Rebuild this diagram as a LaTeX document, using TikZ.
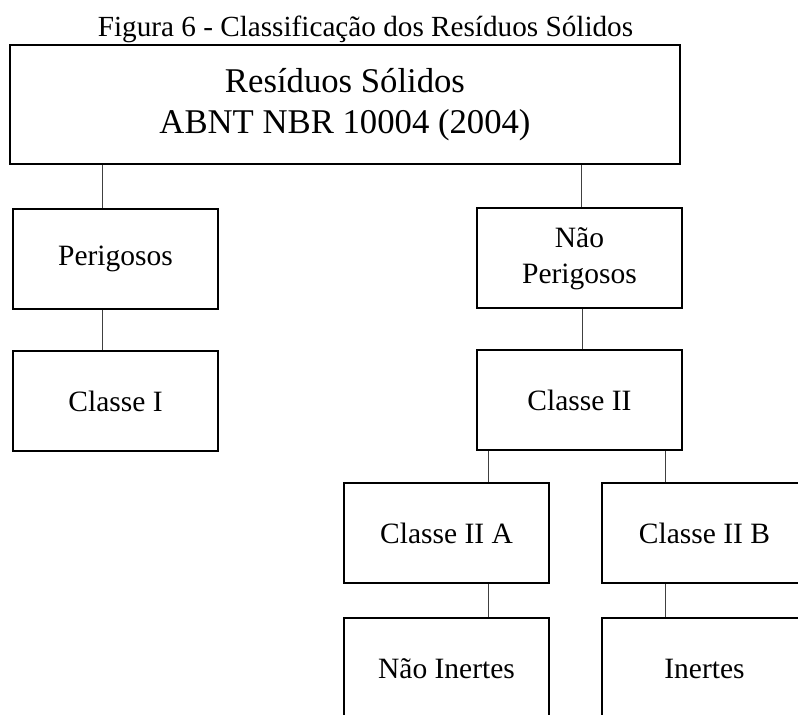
\documentclass[tikz,border=0pt]{standalone}
\usepackage{fontspec}
\setmainfont{Liberation Serif}
\usepackage{tikz}
\usetikzlibrary{positioning}

\tikzset{
  classbox/.style={draw,line width=1pt,inner sep=0pt,minimum width=102.5pt,minimum height=50pt,
    align=center,font=\fontsize{14.75}{18}\selectfont},
  link/.style={draw=black!75,line width=0.45pt}
}

\begin{document}
\begin{tikzpicture}[x=0.5pt,y=-0.5pt,node distance=71pt]
  \useasboundingbox (0,0) rectangle (798,715);
  % Caption
  \node[anchor=base,inner sep=0pt,font=\fontsize{14.6}{17}\selectfont] (caption) at (365.5,37)
    {Figura 6 - Classificação dos Resíduos Sólidos};
  % Root
  \node[classbox,minimum width=335pt,minimum height=59.5pt,font=\fontsize{17.35}{20.5}\selectfont]
    (residuos) at (345,105) {Resíduos Sólidos\\ABNT NBR 10004 (2004)};
  % Left branch
  \node[classbox] (perigosos) at (115.5,259)             {Perigosos};
  \node[classbox] (classe I)  [below of=perigosos]       {Classe I};
  % Right branch
  \node[classbox] (nao perigosos) at (579.5,258.5)       {Não\\Perigosos};
  \node[classbox] (classe II)  [below of=nao perigosos]  {Classe II};
  \node[classbox] (classe IIA) at (446.5,533.5)          {Classe II A};
  \node[classbox] (classe IIB) [right of=classe IIA,node distance=129pt] {Classe II B};
  \node[classbox] (nao inertes) [below of=classe IIA,node distance=67.5pt] {Não Inertes};
  \node[classbox] (inertes)     [below of=classe IIB,node distance=67.5pt] {Inertes};

  % Connecting lines
  \path[link]
  ([xshift=-6.75pt]perigosos.north) edge ([xshift=-6.75pt]perigosos.north |- residuos.south)
  ([xshift=1pt]nao perigosos.north) edge ([xshift=1pt]nao perigosos.north |- residuos.south)
  ([xshift=-6.5pt]classe I.north) edge ([xshift=-6.5pt]classe I.north |- perigosos.south)
  ([xshift=1.25pt]classe II.north) edge ([xshift=1.25pt]classe II.north |- nao perigosos.south)
  ([xshift=20.75pt]classe IIA.north) edge ([xshift=20.75pt]classe IIA.north |- classe II.south)
  ([xshift=-19.75pt]classe IIB.north) edge ([xshift=-19.75pt]classe IIB.north |- classe II.south)
  ([xshift=20.75pt]nao inertes.north) edge ([xshift=20.75pt]nao inertes.north |- classe IIA.south)
  ([xshift=-19.75pt]inertes.north) edge ([xshift=-19.75pt]inertes.north |- classe IIB.south);
\end{tikzpicture}
\end{document}
